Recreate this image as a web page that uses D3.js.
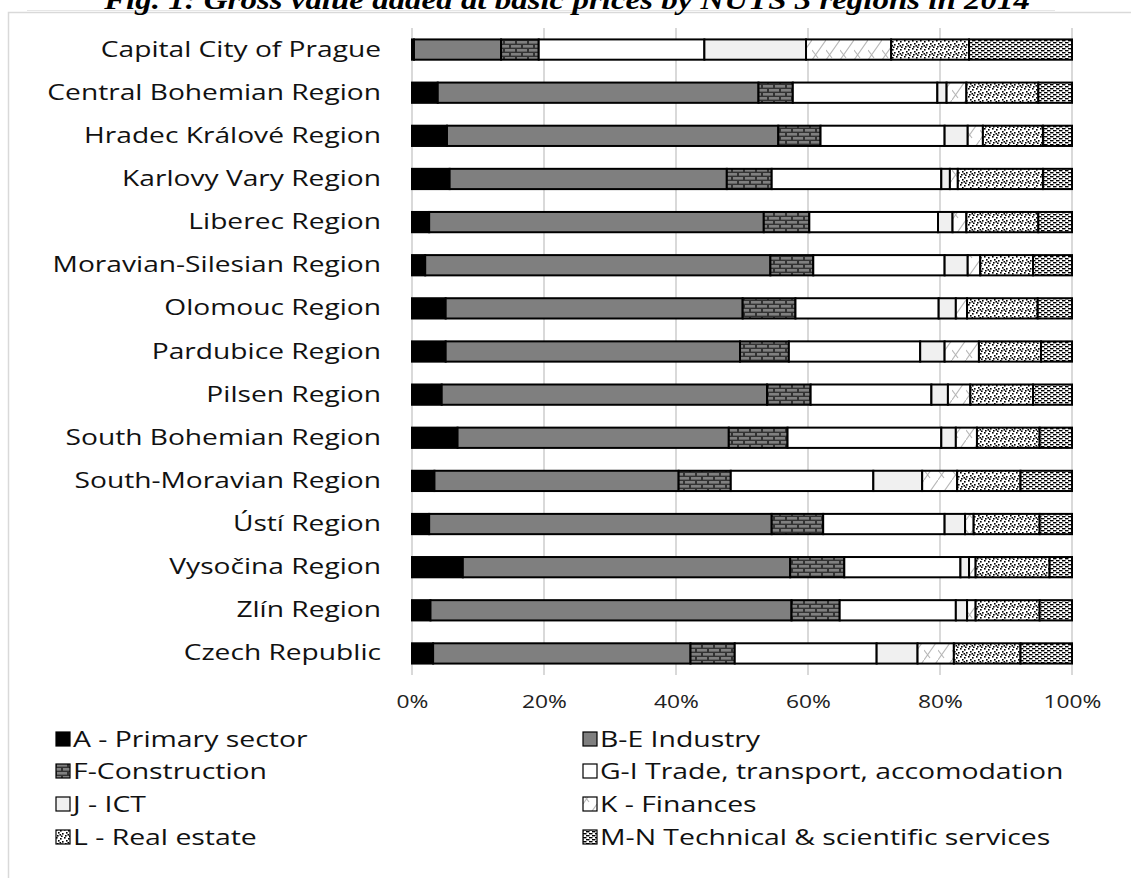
<!DOCTYPE html>
<html>
<head>
<meta charset="utf-8">
<script src="https://cdn.jsdelivr.net/npm/d3@7"></script>
<style>
  body { margin: 0; background: #fff; }
  svg { display: block; }
</style>
</head>
<body>
<div id="chart"></div>
<script>
// regions, top to bottom
var regions = ["Capital City of Prague", "Central Bohemian Region", "Hradec Králové Region",
  "Karlovy Vary Region", "Liberec Region", "Moravian-Silesian Region", "Olomouc Region",
  "Pardubice Region", "Pilsen Region", "South Bohemian Region", "South-Moravian Region",
  "Ústí Region", "Vysočina Region", "Zlín Region", "Czech Republic"];

// share of GVA (%) per sector, same order as regions
var primary      = [0.3, 3.9, 5.3, 5.7, 2.6, 2.0, 5.1, 5.1, 4.5, 6.9, 3.4, 2.6, 7.7, 2.8, 3.2];
var industry     = [13.2, 48.6, 50.2, 42.0, 50.7, 52.3, 45.0, 44.6, 49.3, 41.1, 37.0, 51.9, 49.6, 54.7, 39.0];
var construction = [5.7, 5.2, 6.4, 6.8, 6.9, 6.5, 8.0, 7.4, 6.6, 8.9, 7.9, 7.8, 8.2, 7.3, 6.7];
var trade        = [25.1, 21.9, 18.8, 25.7, 19.5, 19.9, 21.7, 19.9, 18.3, 23.3, 21.6, 18.4, 17.6, 17.6, 21.5];
var ict          = [15.4, 1.4, 3.5, 1.3, 2.2, 3.5, 2.6, 3.7, 2.5, 2.2, 7.4, 3.1, 1.3, 1.7, 6.2];
var finances     = [12.9, 3.0, 2.3, 1.2, 2.1, 1.9, 1.7, 5.2, 3.4, 3.2, 5.3, 1.3, 1.0, 1.3, 5.5];
var realEstate   = [11.8, 10.9, 9.1, 12.9, 10.9, 8.0, 10.7, 9.4, 9.5, 9.5, 9.6, 10.0, 11.2, 9.7, 10.1];
var technical    = [15.6, 5.1, 4.4, 4.4, 5.1, 5.9, 5.2, 4.7, 5.9, 4.9, 7.8, 4.9, 3.4, 4.9, 7.8];

var sectors = ["A - Primary sector", "B-E Industry", "F-Construction", "G-I Trade, transport, accomodation",
  "J - ICT", "K - Finances", "L - Real estate", "M-N Technical & scientific services"];
var sectorValues = [primary, industry, construction, trade, ict, finances, realEstate, technical];
var xTicks = [0, 20, 40, 60, 80, 100];

var W = 1131, H = 878;
var font = "'Open Sans', sans-serif";

var rows = regions.map(function(r, i) {
  var o = { region: r };
  sectors.forEach(function(s, j) { o[s] = sectorValues[j][i]; });
  return o;
});

var svg = d3.select("#chart").append("svg")
  .attr("width", W)
  .attr("height", H);

svg.append("rect").attr("width", W).attr("height", H).attr("fill", "#fff");

// patterns
var defs = svg.append("defs");

// brick
var brick = defs.append("pattern").attr("id", "p-brick")
  .attr("patternUnits", "userSpaceOnUse").attr("width", 12).attr("height", 8);
brick.append("rect").attr("width", 12).attr("height", 8).attr("fill", "#333");
brick.append("rect").attr("x", 1).attr("y", 1).attr("width", 10).attr("height", 2.6).attr("fill", "#808080");
brick.append("rect").attr("x", -5).attr("y", 5).attr("width", 10).attr("height", 2.6).attr("fill", "#808080");
brick.append("rect").attr("x", 7).attr("y", 5).attr("width", 10).attr("height", 2.6).attr("fill", "#808080");

// finances - light zigzag
var fin = defs.append("pattern").attr("id", "p-fin")
  .attr("patternUnits", "userSpaceOnUse").attr("width", 14).attr("height", 20);
fin.append("rect").attr("width", 14).attr("height", 20).attr("fill", "#fff");
fin.append("path").attr("d", "M0,20 L14,0 M0,10 L6,18")
  .attr("stroke", "#b8b8b8").attr("stroke-width", 1.1).attr("fill", "none");

// real estate - speckle
var spk = defs.append("pattern").attr("id", "p-dots")
  .attr("patternUnits", "userSpaceOnUse").attr("width", 8).attr("height", 8);
spk.append("rect").attr("width", 8).attr("height", 8).attr("fill", "#fff");
[[0, 0], [4, 1], [2, 3], [6, 4], [1, 6], [5, 6.5], [3.5, 5]].forEach(function(p) {
  spk.append("rect").attr("x", p[0]).attr("y", p[1]).attr("width", 1.6).attr("height", 1.6).attr("fill", "#000");
});

// technical - dashed rows
var dash = defs.append("pattern").attr("id", "p-dash")
  .attr("patternUnits", "userSpaceOnUse").attr("width", 6).attr("height", 4);
dash.append("rect").attr("width", 6).attr("height", 4).attr("fill", "#fff");
dash.append("rect").attr("x", 0).attr("y", 0).attr("width", 3.5).attr("height", 1.4).attr("fill", "#000");
dash.append("rect").attr("x", 3).attr("y", 2).attr("width", 3.5).attr("height", 1.4).attr("fill", "#000");
dash.append("rect").attr("x", -3).attr("y", 2).attr("width", 3.5).attr("height", 1.4).attr("fill", "#000");

var fills = ["#000", "#7f7f7f", "url(#p-brick)", "#fff", "#f0f0f0", "url(#p-fin)", "url(#p-dots)", "url(#p-dash)"];

// frame and title (the picture is stretched sideways, so text is too)
svg.append("line").attr("x1", 27).attr("x2", 1055).attr("y1", 10.5).attr("y2", 10.5)
  .attr("stroke", "#e6e6e6").attr("stroke-width", 1);
svg.append("rect").attr("x", 8.5).attr("y", 12.5).attr("width", W + 20).attr("height", H + 20)
  .attr("fill", "none").attr("stroke", "#d9d9d9").attr("stroke-width", 1.5);
svg.append("text")
  .attr("transform", "translate(567,9) scale(1.22,1)")
  .attr("text-anchor", "middle")
  .attr("font-family", "'Liberation Serif', serif")
  .attr("font-weight", "bold").attr("font-style", "italic")
  .attr("font-size", "27px")
  .text("Fig. 1: Gross value added at basic prices by NUTS 3 regions in 2014");

// scales
var x = d3.scaleLinear().domain([0, 100]).range([412, 1072]);
var y = d3.scaleBand().domain(regions).range([28, 675]).paddingInner(0.53).paddingOuter(0.265);

// gridlines
svg.append("g").selectAll("line")
  .data(xTicks).enter().append("line")
  .attr("x1", function(d) { return x(d); })
  .attr("x2", function(d) { return x(d); })
  .attr("y1", 28).attr("y2", 675)
  .attr("stroke", "#d9d9d9").attr("stroke-width", 2);

// x axis labels
var xAxis = d3.axisBottom(x).tickValues(xTicks).tickSize(0).tickPadding(0)
  .tickFormat(function(d) { return d + "%"; });
var gx = svg.append("g").attr("transform", "translate(0,695)").call(xAxis);
gx.select(".domain").remove();
gx.selectAll("text").attr("font-family", font).attr("font-size", "19px").attr("fill", "#222")
  .attr("dy", "0.71em").attr("transform", "scale(1.2,1)");

// y axis labels
var yAxis = d3.axisLeft(y).tickSize(0).tickPadding(0);
var gy = svg.append("g").attr("transform", "translate(381,0)").call(yAxis);
gy.select(".domain").remove();
gy.selectAll("text").attr("font-family", font).attr("font-size", "22px").attr("fill", "#111")
  .attr("transform", "scale(1.28,1)");

// stacked bars
var series = d3.stack().keys(sectors)(rows);
svg.append("g").selectAll("g")
  .data(series).enter().append("g")
  .attr("fill", function(d, i) { return fills[i]; })
  .selectAll("rect")
  .data(function(d) { return d; })
  .enter().append("rect")
  .attr("x", function(d) { return x(d[0]); })
  .attr("y", function(d) { return y(d.data.region); })
  .attr("width", function(d) { return x(d[1]) - x(d[0]); })
  .attr("height", y.bandwidth())
  .attr("stroke", "#000")
  .attr("stroke-width", 2);

// legend
var legendRows = [739, 771, 804, 837];
var legend = svg.append("g").selectAll("g")
  .data(sectors).enter().append("g")
  .attr("transform", function(d, i) {
    var col = i % 2, row = Math.floor(i / 2);
    return "translate(" + (col ? 583 : 56) + "," + legendRows[row] + ")";
  });
legend.append("rect")
  .attr("x", 0).attr("y", -7).attr("width", 14).attr("height", 14)
  .attr("fill", function(d, i) { return fills[i]; })
  .attr("stroke", "#000").attr("stroke-width", 1.2);
legend.append("text")
  .attr("transform", "translate(17,0) scale(1.29,1)")
  .attr("dy", "0.35em")
  .attr("font-family", font).attr("font-size", "22px").attr("fill", "#111")
  .text(function(d) { return d; });
</script>
</body>
</html>
